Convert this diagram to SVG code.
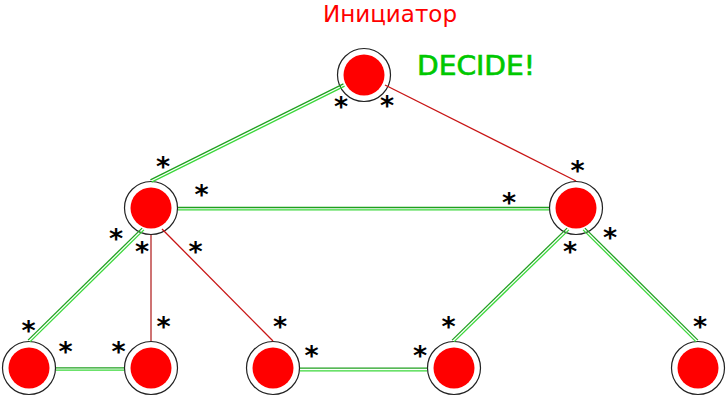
<svg xmlns="http://www.w3.org/2000/svg" width="726" height="396" viewBox="0 0 726 396">
<style>
.ring{fill:#fff;stroke:#222;stroke-width:1.2}
.core{fill:#ff0000}
.gd{stroke:#1fa01f;stroke-width:1.3;fill:none}
.gl{stroke:#3ad83a;stroke-width:1.3;fill:none}
.red{stroke:#c81414;stroke-width:1.3;fill:none}
.ast{font-family:"DejaVu Sans",sans-serif;font-weight:bold;font-size:27px;fill:#000;text-anchor:middle}
</style>
<rect width="726" height="396" fill="#fff"/>
<g id="nodes">
<g id="n-top"><circle class="ring" cx="364" cy="75" r="26.5"/><circle class="core" cx="364" cy="75" r="20.5"/></g>
<g id="n-left"><circle class="ring" cx="151" cy="208" r="26.5"/><circle class="core" cx="151" cy="208" r="20.5"/></g>
<g id="n-right"><circle class="ring" cx="576" cy="208" r="26.5"/><circle class="core" cx="576" cy="208" r="20.5"/></g>
<g id="n-b1"><circle class="ring" cx="29" cy="368" r="26.5"/><circle class="core" cx="29" cy="368" r="20.5"/></g>
<g id="n-b2"><circle class="ring" cx="151" cy="368" r="26.5"/><circle class="core" cx="151" cy="368" r="20.5"/></g>
<g id="n-b3"><circle class="ring" cx="273" cy="368" r="26.5"/><circle class="core" cx="273" cy="368" r="20.5"/></g>
<g id="n-b4"><circle class="ring" cx="454" cy="368" r="26.5"/><circle class="core" cx="454" cy="368" r="20.5"/></g>
<g id="n-b5"><circle class="ring" cx="698" cy="368" r="26.5"/><circle class="core" cx="698" cy="368" r="20.5"/></g>
</g>
<g id="connectors">
<line class="gd" x1="150.4" y1="179.8" x2="343.4" y2="83.8"/>
<line class="gl" x1="151.6" y1="182.2" x2="344.6" y2="86.2"/>
<line class="gd" x1="178" y1="207.5" x2="549" y2="207.5"/>
<line class="gl" x1="178" y1="209.9" x2="549" y2="209.9"/>
<line class="gd" x1="28.1" y1="340.1" x2="142.1" y2="228.1"/>
<line class="gl" x1="29.9" y1="341.9" x2="143.9" y2="229.9"/>
<line class="gd" x1="56" y1="367.8" x2="124" y2="367.8"/>
<line class="gl" x1="56" y1="370.2" x2="124" y2="370.2"/>
<line class="gd" x1="300" y1="368.2" x2="427" y2="368.2"/>
<line class="gl" x1="300" y1="370.8" x2="427" y2="370.8"/>
<line class="gd" x1="452.1" y1="340.1" x2="567.1" y2="228.1"/>
<line class="gl" x1="453.9" y1="341.9" x2="568.9" y2="229.9"/>
<line class="gd" x1="584.9" y1="228.1" x2="697.9" y2="340.1"/>
<line class="gl" x1="583.1" y1="229.9" x2="696.1" y2="341.9"/>
<line class="red" x1="385" y1="85" x2="576" y2="181"/>
<line class="red" x1="151" y1="235" x2="151" y2="341" style="stroke:#b42828"/>
<line class="red" x1="162" y1="229" x2="273" y2="341"/>
</g>
<g id="labels">
<text x="390" y="22" font-family="DejaVu Sans, sans-serif" font-size="23" fill="#ff0000" text-anchor="middle" textLength="134" lengthAdjust="spacingAndGlyphs">Инициатор</text>
<text x="476" y="75" font-family="DejaVu Sans, sans-serif" font-size="27" fill="#00c800" stroke="#00c800" stroke-width="0.7" text-anchor="middle" textLength="118" lengthAdjust="spacingAndGlyphs">DECIDE!</text>
</g>
<g id="stars">
<text class="ast" x="341" y="115.5">*</text>
<text class="ast" x="387" y="115">*</text>
<text class="ast" x="163" y="175.5">*</text>
<text class="ast" x="201.5" y="204">*</text>
<text class="ast" x="116" y="248">*</text>
<text class="ast" x="142" y="261">*</text>
<text class="ast" x="195.5" y="260.5">*</text>
<text class="ast" x="577.5" y="179.5">*</text>
<text class="ast" x="509" y="212">*</text>
<text class="ast" x="570" y="260.5">*</text>
<text class="ast" x="610" y="247">*</text>
<text class="ast" x="700" y="335.5">*</text>
<text class="ast" x="28.5" y="339.5">*</text>
<text class="ast" x="65.5" y="361">*</text>
<text class="ast" x="118.5" y="361">*</text>
<text class="ast" x="163.5" y="335.5">*</text>
<text class="ast" x="280" y="335.5">*</text>
<text class="ast" x="311.5" y="364.5">*</text>
<text class="ast" x="420" y="364.5">*</text>
<text class="ast" x="448.5" y="335.5">*</text>
</g>
</svg>
